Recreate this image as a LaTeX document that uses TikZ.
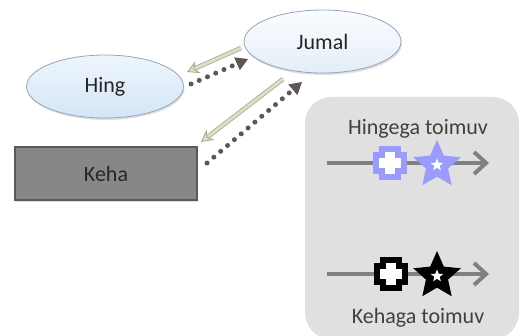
\documentclass[tikz,border=0pt]{standalone}
\usepackage{fontspec}
\setmainfont{Carlito}
\usetikzlibrary{arrows.meta,shapes.geometric,shadows}
\definecolor{txt}{HTML}{262626}
\definecolor{ptxt}{HTML}{404040}
\definecolor{panel}{HTML}{E0E0E0}
\definecolor{hingtop}{HTML}{EEF5FC}
\definecolor{hingbot}{HTML}{D3E6F6}
\definecolor{jumtop}{HTML}{FBFDFF}
\definecolor{jumbot}{HTML}{E3EEF8}
\definecolor{ellborder}{HTML}{93A6BC}
\definecolor{kehafill}{HTML}{878787}
\definecolor{kehaborder}{HTML}{5A5A5A}
\definecolor{khaki}{HTML}{DDE0C6}
\definecolor{khakiborder}{HTML}{A3A98A}
\definecolor{dotcol}{HTML}{5F5555}
\definecolor{linegray}{HTML}{808080}
\definecolor{lav}{HTML}{9A9AFF}
\tikzset{
  every node/.style={font=\fontsize{22}{26}\selectfont, text=txt},
  ell/.style={ellipse, draw=ellborder, line width=0.8pt, inner sep=0pt,
    minimum width=157pt, minimum height=63pt,
    drop shadow={shadow xshift=1pt, shadow yshift=-2pt, opacity=0.25}},
  solidarr/.style={draw=khakiborder, line width=0.8pt, double=khaki, double distance=2.8pt,
    -{Stealth[length=12pt, width=13pt, inset=4pt, line width=0.8pt, fill=khaki]}},
  dotarr/.style={draw=dotcol, line width=5pt, line cap=round, dash pattern=on 0pt off 9pt,
    -{Triangle[length=12pt, width=14pt, line width=0pt]}},
  panelline/.style={draw=linegray, line width=4pt, -{Straight Barb[length=12pt, width=22pt, line width=4pt]}},
  ptext/.style={font=\fontsize{22}{26}\selectfont, text=ptxt},
  starouter/.style={star, star points=5, star point ratio=2.15, minimum size=50pt, inner sep=0pt, draw=none},
  starinner/.style={star, star points=5, star point ratio=2.3, minimum size=13pt, inner sep=0pt, fill=white, draw=none},
  plusbox/.style={line width=6pt, miter limit=10, line join=miter, fill=white}
}
\begin{document}
\begin{tikzpicture}[x=1pt,y=1pt]
\useasboundingbox (0,0) rectangle (524,335);
% nodes
\node[ell, top color=jumtop, bottom color=jumbot] (jumal) at (322.5,293.5) {Jumal};
\node[ell, top color=hingtop, bottom color=hingbot] (hing) at (105,248.5) {Hing};
\node[draw=kehaborder, line width=1.2pt, fill=kehafill, minimum width=182pt, minimum height=53pt,
  drop shadow={shadow xshift=1pt, shadow yshift=-2pt, opacity=0.25}] (keha) at (106,161.5) {Keha};
% connector end points
\coordinate (s1a) at (241,287); \coordinate (s1b) at (187,263);
\coordinate (d1a) at (191,251); \coordinate (d1b) at (248,276);
\coordinate (s2a) at (283,256); \coordinate (s2b) at (201,193);
\coordinate (d2a) at (207,172); \coordinate (d2b) at (302,253);
\draw[solidarr] (s1a) -- (s1b);
\draw[dotarr] (d1a) -- (d1b);
\draw[solidarr] (s2a) -- (s2b);
\draw[dotarr] (d2a) -- (d2b);
% panel
\fill[panel, rounded corners=26pt] (305,-4) rectangle (519,238);
\node[ptext] (hingega) at (418,206) {Hingega toimuv};
\node[ptext] (kehaga) at (418,17) {Kehaga toimuv};
\coordinate (l1a) at (327,172); \coordinate (l1b) at (489,172);
\coordinate (l2a) at (327,61); \coordinate (l2b) at (489,61);
\draw[panelline] (l1a) -- (l1b);
\draw[panelline] (l2a) -- (l2b);
% upper symbols
\coordinate (p1) at (390,172);
\draw[plusbox, draw=lav, shift={(p1)}] (-8,14) -- (8,14) -- (8,8) -- (14,8) -- (14,-8) -- (8,-8) -- (8,-14) -- (-8,-14) -- (-8,-8) -- (-14,-8) -- (-14,8) -- (-8,8) -- cycle;
\node[starouter, fill=lav] (st1) at (437,170) {};
\node[starinner] (st1i) at (st1.center) {};
% lower symbols
\coordinate (p2) at (391,61);
\draw[plusbox, draw=black, shift={(p2)}] (-8,14) -- (8,14) -- (8,8) -- (14,8) -- (14,-8) -- (8,-8) -- (8,-14) -- (-8,-14) -- (-8,-8) -- (-14,-8) -- (-14,8) -- (-8,8) -- cycle;
\node[starouter, fill=black] (st2) at (437,59) {};
\node[starinner] (st2i) at (st2.center) {};
\end{tikzpicture}
\end{document}
